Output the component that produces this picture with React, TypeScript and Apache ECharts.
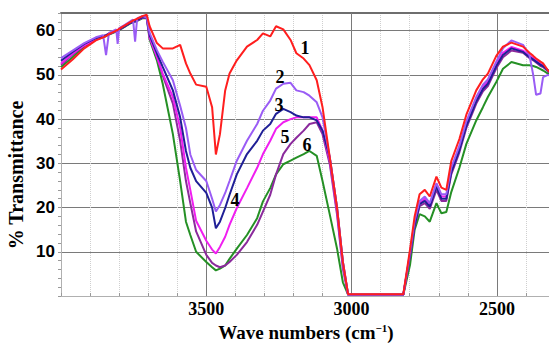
import React, { useEffect, useRef } from 'react';
import * as echarts from 'echarts';

// Wave numbers (cm^-1)
const waves = [
  4000, 3960, 3920, 3880, 3855, 3845, 3835, 3810, 3805, 3800, 3780, 3760, 3752, 3745, 3738, 3720, 3705, 3695,
  3670, 3650, 3615, 3590, 3570, 3555, 3535, 3500, 3480, 3467, 3453, 3435, 3420, 3395, 3360, 3325, 3305, 3280,
  3260, 3235, 3210, 3190, 3165, 3145, 3120, 3100, 3075, 3050, 3030, 3012,
  2822, 2799, 2783, 2766, 2748, 2731, 2708, 2691, 2674, 2657, 2629, 2605, 2571, 2548, 2531, 2502, 2479, 2450,
  2410, 2388, 2375, 2365, 2350, 2341, 2324, 2305,
];

const curve1 = [
  51.2, 53.5, 56, 57.8, 58.5, 58.8, 59.2, 60, 60.2, 60.4, 61.2, 62, 62.3, 62.5, 62.7, 63.3, 63.6, 61,
  57.2, 56, 56, 56.8, 52.6, 50.3, 47.8, 47.3, 42.7, 32, 36.6, 46.5, 50.3, 53.3, 56.4, 57.9, 59.4, 58.7,
  61, 60.3, 57.9, 54.9, 53.7, 52.2, 48.8, 42.7, 31.3, 19.9, 7.7, 0.4,
  0.4, 10.5, 18, 23, 24, 22.5, 27, 24.5, 24, 30.5, 35.5, 41, 46.5, 49, 50.3, 54.3, 56.4, 57.3,
  56.4, 55, 54.3, 53.7, 53, 52.6, 51, 50,
];

const curve2 = [
  53.8, 55.5, 57.2, 58.5, 59, 54.5, 59.5, 60.3, 57, 60.6, 61.3, 62.2, 62.5, 57.5, 62.8, 63.3, 63, 59.5,
  55.6, 53, 48.8, 43, 38, 32, 28.5, 26, 22, 19.1, 20.6, 23.3, 26, 30.6, 35.1, 38.9, 41.9, 44.2,
  46.9, 48, 48.2, 46.5, 46.1, 45.3, 43.8, 40.4, 31.3, 19.9, 7.7, 0.3,
  0.3, 9.8, 17, 21.5, 22.5, 21, 25.5, 23, 23, 29, 34, 39.5, 45, 47.8, 49, 53, 56, 57.8,
  56.8, 54.5, 50, 45.5, 45.8, 49.5, 50, 49.5,
];

const curve3 = [
  53.2, 55.2, 57, 58.3, 58.8, 59, 59.3, 60, 60.1, 60.3, 61, 61.8, 62, 62.2, 62.4, 63, 63, 59,
  54.9, 51.8, 46.5, 40.4, 32.8, 29, 26, 23.3, 20, 15.3, 16.8, 19.9, 22.9, 27.5, 32.1, 35.1, 37.4, 38.9,
  41.2, 42.3, 41.6, 40.8, 40.4, 40.4, 39.7, 37.4, 31.3, 19.9, 7.7, 0.3,
  0.3, 9.3, 16, 20.8, 21.5, 20.2, 24.8, 22, 22, 28, 33, 38.5, 44, 46.8, 48, 52, 54.5, 56,
  55.2, 54, 53.5, 53, 52.3, 52, 51, 50.5,
];

const curve4 = [
  52.3, 54.6, 56.6, 58, 58.6, 58.9, 59.2, 59.9, 60, 60.2, 61, 61.8, 62, 62.1, 62.3, 62.9, 63, 58.3,
  54.1, 49.9, 43.5, 35.1, 26, 21, 14.6, 9.3, 7.5, 6.9, 6.5, 6.9, 7.7, 9.3, 12.2, 16.1, 19.1, 22.9,
  27.5, 32.1, 34.4, 35.8, 37.4, 38.9, 39.3, 36.6, 29.8, 18.4, 6.2, 0.3,
  0.3, 9, 15.8, 20.3, 21, 19.7, 24, 21.5, 21.5, 27.5, 32.5, 38, 43.5, 46.3, 47.5, 51.5, 54, 55.5,
  55, 53.8, 53.3, 52.8, 52, 51.8, 50.8, 50,
];

const curve5 = [
  52.6, 54.8, 56.7, 58.1, 58.7, 59, 59.3, 60, 60.1, 60.3, 61.1, 61.9, 62.1, 62.2, 62.4, 63, 63, 58.5,
  54.1, 50.3, 45, 38, 29, 24, 17, 12.5, 10.5, 9.6, 11.1, 13.4, 16.1, 19.9, 24.4, 29, 32.1, 35.1,
  37.8, 39.3, 40, 40.4, 40.4, 40.4, 40.4, 37.4, 30.6, 19.1, 6.9, 0.3,
  0.3, 9.5, 16.5, 21, 22, 20.7, 25.3, 22.5, 22.5, 28.5, 33.5, 39, 44.5, 47.3, 48.5, 52.5, 55, 56.3,
  55.5, 54.3, 53.8, 53.3, 52.5, 52.2, 51, 50.5,
];

const curve6 = [
  51.8, 54, 56.5, 58, 58.5, 58.8, 59.1, 59.8, 60, 60.1, 60.9, 61.7, 61.9, 62, 62.2, 62.8, 62.8, 58,
  53.3, 48, 36.6, 26, 16.8, 13.8, 10, 7.7, 6.5, 5.8, 6.2, 6.9, 8.4, 10.7, 13.8, 17.6, 21.4, 24.4,
  27.5, 29.8, 30.6, 31.3, 32.1, 32.8, 31.7, 26, 18.4, 10.7, 3.1, 0.3,
  0.3, 7, 15, 18.5, 18, 16.8, 21, 18.7, 19, 23.5, 29, 34.4, 39.7, 42.7, 45, 48.4, 51.4, 52.9,
  52.2, 52.2, 52, 51.8, 51.3, 51, 50.3, 50,
];

const curveNames = ['1', '2', '3', '4', '5', '6'];
const curveColors = ['#ff1e1e', '#9a5cf5', '#1f1f96', '#8b2a9c', '#f01ef0', '#259025'];
const curves = [curve1, curve2, curve3, curve4, curve5, curve6];
const drawOrder = [5, 3, 4, 2, 1, 0];

const majorWaves = [3500, 3000, 2500];
const xTickLabels = [3500, 3000, 2500];
const yTickLabels = [10, 20, 30, 40, 50, 60];

export default function App() {
  const ref = useRef<HTMLDivElement>(null);
  useEffect(() => {
    document.body.style.margin = '0';
    const chart = echarts.init(ref.current!, null, { renderer: 'svg' });
    const lineSeries = drawOrder.map((i) => ({
      name: curveNames[i],
      type: 'line',
      xAxisIndex: 0,
      yAxisIndex: 0,
      symbol: 'none',
      z: 3,
      lineStyle: { color: curveColors[i], width: 2 },
      itemStyle: { color: curveColors[i] },
      data: waves.map((w, k) => [w, curves[i][k]]),
    }));
    const serif = '"Liberation Serif", "Times New Roman", serif';
    const option: any = {
      animation: false,
      grid: { left: 61, top: 13, right: 5, bottom: 48 },
      xAxis: [
        {
          type: 'value',
          inverse: true,
          min: 2300,
          max: 4000,
          interval: 100,
          axisLine: { show: true, lineStyle: { color: '#b0b0b0', width: 1 } },
          axisTick: { show: true, inside: true, length: 3, lineStyle: { color: '#999' } },
          axisLabel: {
            formatter: (v: number) => (xTickLabels.includes(v) ? String(v) : ''),
            color: '#000',
            fontFamily: serif,
            fontWeight: 'bold',
            fontSize: 18,
            lineHeight: 16,
            margin: 5,
          },
          splitLine: { show: true, lineStyle: { color: '#cfcfcf', type: 'dotted', width: 1 } },
        },
        {
          type: 'value',
          position: 'top',
          inverse: true,
          min: 2300,
          max: 4000,
          axisLine: { show: true, lineStyle: { color: '#6e6e6e', width: 2 } },
          axisTick: { show: false },
          axisLabel: { show: false },
          splitLine: { show: false },
        },
      ],
      yAxis: {
        type: 'value',
        min: 0,
        max: 64,
        interval: 10,
        axisLine: { show: true, lineStyle: { color: '#b0b0b0', width: 1 } },
        axisTick: { show: true, length: 3, lineStyle: { color: '#999' } },
        minorTick: { show: true, splitNumber: 5, length: 3, lineStyle: { color: '#999' } },
        axisLabel: {
          formatter: (v: number) => (yTickLabels.includes(v) ? String(v) : ''),
          color: '#000',
          fontFamily: '"Liberation Sans", Arial, sans-serif',
          fontWeight: 'bold',
          fontSize: 17,
          margin: 6,
        },
        splitLine: { show: true, lineStyle: { color: '#7a7a7a', width: 1 } },
      },
      series: [
        {
          type: 'line',
          name: 'grid',
          data: [],
          z: 1,
          markLine: {
            silent: true,
            symbol: 'none',
            z: 1,
            label: { show: false },
            lineStyle: { color: '#7a7a7a', type: 'solid', width: 1 },
            data: majorWaves.map((w) => ({ xAxis: w })),
          },
        },
        ...lineSeries,
      ],
      graphic: [
        ...[
          { t: '1', x: 305, y: 48 },
          { t: '2', x: 280, y: 77 },
          { t: '3', x: 279, y: 105 },
          { t: '4', x: 235, y: 200 },
          { t: '5', x: 285, y: 137 },
          { t: '6', x: 307, y: 145 },
        ].map((l) => ({
          type: 'text',
          x: l.x,
          y: l.y,
          z: 10,
          style: {
            text: l.t,
            fill: '#000',
            font: 'bold 18px ' + serif,
            textAlign: 'center',
            textVerticalAlign: 'middle',
          },
        })),
        {
          type: 'text',
          x: 16,
          y: 175,
          rotation: Math.PI / 2,
          style: {
            text: '% Transmittance',
            fill: '#000',
            font: 'bold 20px ' + serif,
            textAlign: 'center',
            textVerticalAlign: 'middle',
          },
        },
        {
          type: 'text',
          x: 306,
          y: 332,
          style: {
            text: '{a|Wave numbers (cm}{s|−1}{a|)}',
            fill: '#000',
            textAlign: 'center',
            textVerticalAlign: 'middle',
            rich: {
              a: { fontFamily: serif, fontWeight: 'bold', fontSize: 19, lineHeight: 20, fill: '#000' },
              s: { fontFamily: serif, fontWeight: 'bold', fontSize: 11, lineHeight: 11, verticalAlign: 'top', fill: '#000' },
            },
          },
        },
      ],
    };
    chart.setOption(option);
    return () => chart.dispose();
  }, []);
  return (
    <div style={{ position: 'absolute', left: 0, top: 0, width: 549, height: 344, overflow: 'hidden', background: '#fff' }}>
      <div ref={ref} style={{ width: 560, height: 344 }} />
    </div>
  );
}
